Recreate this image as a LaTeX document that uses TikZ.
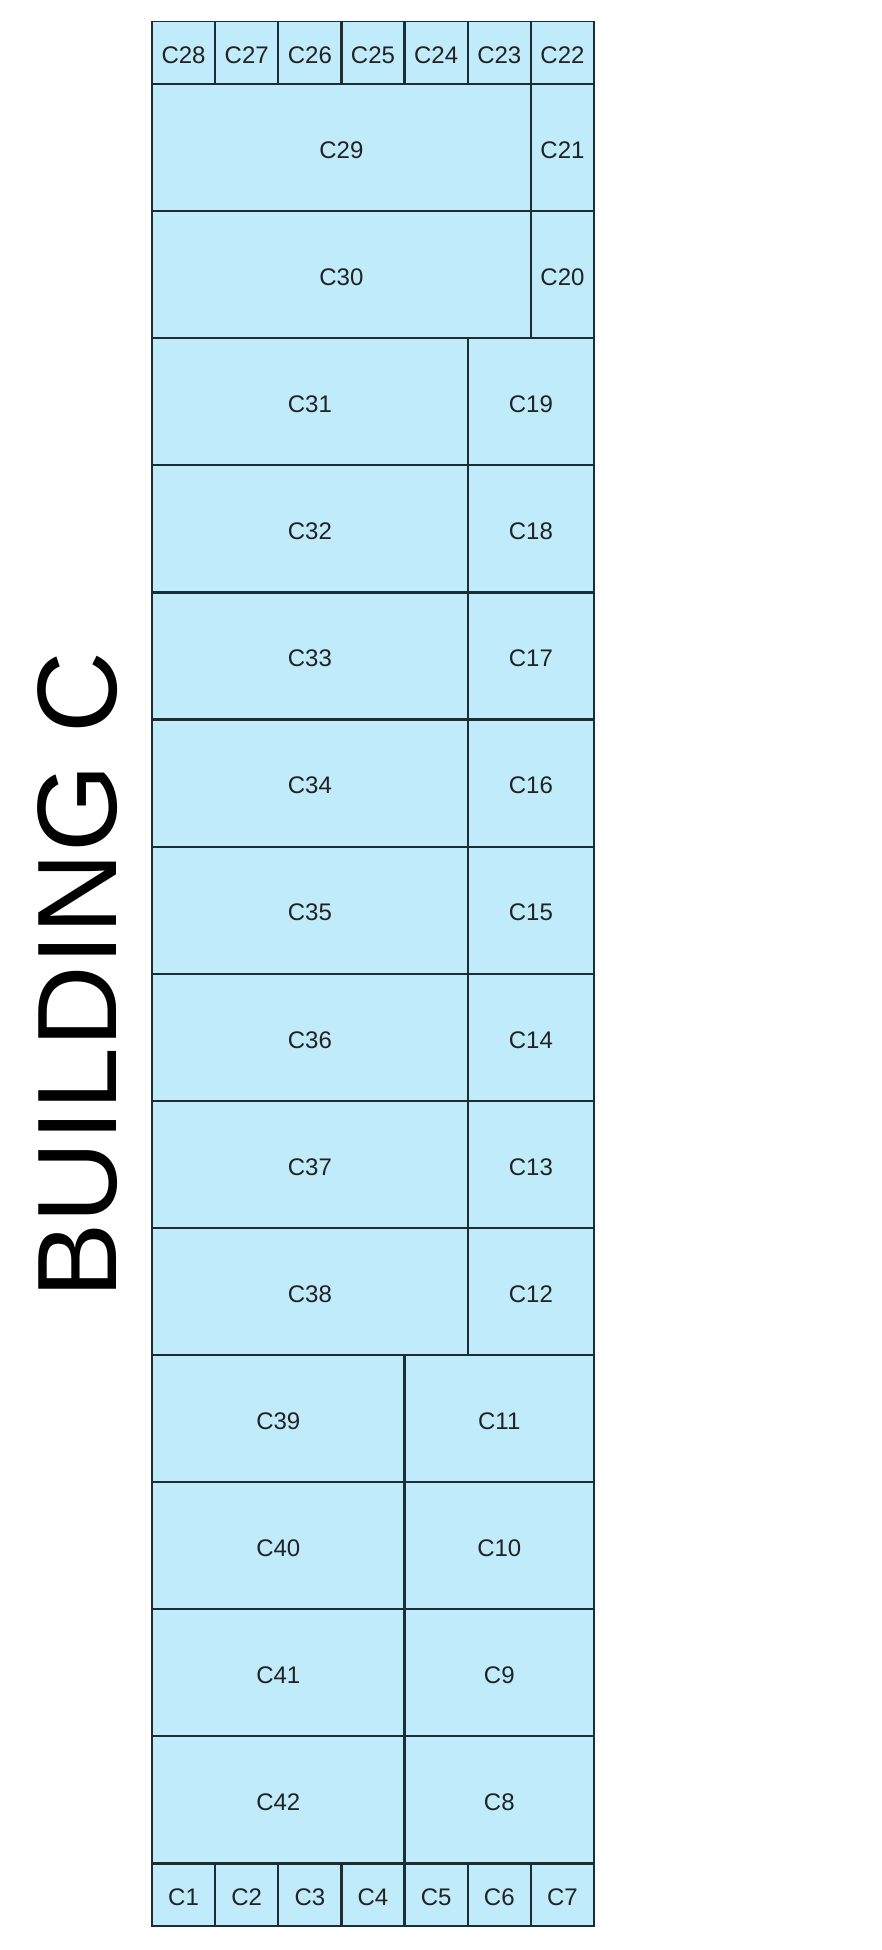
\documentclass[tikz,border=0pt]{standalone}
\usepackage{fontspec}
\setmainfont{Liberation Sans}
\definecolor{roomfill}{HTML}{C0EBFB}
\definecolor{roomline}{HTML}{1E2D33}
\definecolor{labeltext}{HTML}{222222}
\tikzset{
  cell/.style={fill=roomfill, inner sep=0pt},
  celltext/.style={inner sep=0pt, text=labeltext, font=\fontsize{24}{28}\selectfont},
  outline/.style={draw=roomline, line width=1.8pt},
  title/.style={rotate=90, inner sep=0pt, text=black, font=\fontsize{113}{120}\selectfont}
}
\newcommand\cellbox[5]{%
  \pgfmathsetmacro\cx{(#2+#4)/2}%
  \pgfmathsetmacro\cy{(#3+#5)/2}%
  \pgfmathsetmacro\cw{#4-#2}%
  \pgfmathsetmacro\ch{#5-#3}%
  \node[cell, minimum width=\cw pt, minimum height=\ch pt] (#1) at (\cx,\cy) {};
  \node[celltext] (#1-label) at ([yshift=-2.5pt]#1.center) {#1};}
\begin{document}
\begin{tikzpicture}[x=1pt,y=-1pt]
\fill[white] (0,0) rectangle (882,1950);
\useasboundingbox (0,0) rectangle (882,1950);
% column positions
\def\xa{152}\def\xb{215.14}\def\xc{278.29}\def\xd{341.43}
\def\xe{404.57}\def\xf{467.71}\def\xg{530.86}\def\xh{594}
% top row
\cellbox{C28}{\xa}{21.7}{\xb}{84}
\cellbox{C27}{\xb}{21.7}{\xc}{84}
\cellbox{C26}{\xc}{21.7}{\xd}{84}
\cellbox{C25}{\xd}{21.7}{\xe}{84}
\cellbox{C24}{\xe}{21.7}{\xf}{84}
\cellbox{C23}{\xf}{21.7}{\xg}{84}
\cellbox{C22}{\xg}{21.7}{\xh}{84}
% wide rows
\cellbox{C29}{\xa}{84}{\xg}{211.1}
\cellbox{C21}{\xg}{84}{\xh}{211.1}
\cellbox{C30}{\xa}{211.1}{\xg}{338.2}
\cellbox{C20}{\xg}{211.1}{\xh}{338.2}
% middle rows
\cellbox{C31}{\xa}{338.2}{\xf}{465.3}
\cellbox{C19}{\xf}{338.2}{\xh}{465.3}
\cellbox{C32}{\xa}{465.3}{\xf}{592.4}
\cellbox{C18}{\xf}{465.3}{\xh}{592.4}
\cellbox{C33}{\xa}{592.4}{\xf}{719.5}
\cellbox{C17}{\xf}{592.4}{\xh}{719.5}
\cellbox{C34}{\xa}{719.5}{\xf}{846.6}
\cellbox{C16}{\xf}{719.5}{\xh}{846.6}
\cellbox{C35}{\xa}{846.6}{\xf}{973.7}
\cellbox{C15}{\xf}{846.6}{\xh}{973.7}
\cellbox{C36}{\xa}{973.7}{\xf}{1100.8}
\cellbox{C14}{\xf}{973.7}{\xh}{1100.8}
\cellbox{C37}{\xa}{1100.8}{\xf}{1227.9}
\cellbox{C13}{\xf}{1100.8}{\xh}{1227.9}
\cellbox{C38}{\xa}{1227.9}{\xf}{1355}
\cellbox{C12}{\xf}{1227.9}{\xh}{1355}
% lower rows
\cellbox{C39}{\xa}{1355}{\xe}{1482.1}
\cellbox{C11}{\xe}{1355}{\xh}{1482.1}
\cellbox{C40}{\xa}{1482.1}{\xe}{1609.2}
\cellbox{C10}{\xe}{1482.1}{\xh}{1609.2}
\cellbox{C41}{\xa}{1609.2}{\xe}{1736.3}
\cellbox{C9}{\xe}{1609.2}{\xh}{1736.3}
\cellbox{C42}{\xa}{1736.3}{\xe}{1863.4}
\cellbox{C8}{\xe}{1736.3}{\xh}{1863.4}
% bottom row
\cellbox{C1}{\xa}{1863.4}{\xb}{1926}
\cellbox{C2}{\xb}{1863.4}{\xc}{1926}
\cellbox{C3}{\xc}{1863.4}{\xd}{1926}
\cellbox{C4}{\xd}{1863.4}{\xe}{1926}
\cellbox{C5}{\xe}{1863.4}{\xf}{1926}
\cellbox{C6}{\xf}{1863.4}{\xg}{1926}
\cellbox{C7}{\xg}{1863.4}{\xh}{1926}
% outlines drawn over all fills so shared walls keep full width
\foreach \n in {1,...,42}
  \draw[outline] (C\n.north west) rectangle (C\n.south east);
% title
\node[title] (bldg) at (77.5,975) {BUILDING C};
\end{tikzpicture}
\end{document}
